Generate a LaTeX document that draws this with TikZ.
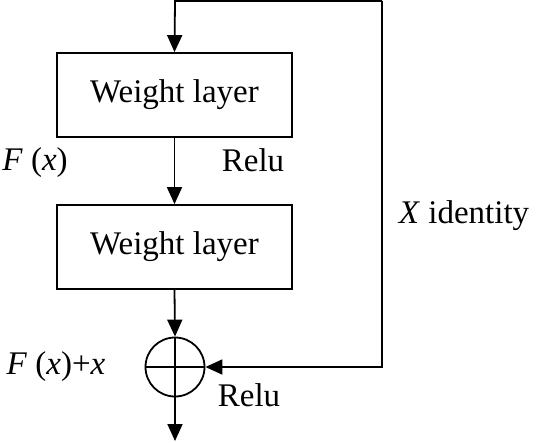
\documentclass[tikz,border=0pt]{standalone}
\usepackage{fontspec}
\setmainfont{Liberation Serif}
\usetikzlibrary{arrows.meta}
\begin{document}
\begin{tikzpicture}[x=1pt,y=-1pt,
  lbl/.style={font=\fontsize{33}{38}\selectfont, inner sep=0pt},
  wbox/.style={draw, line width=1.8pt, minimum width=235pt, minimum height=84pt, font=\fontsize{33}{38}\selectfont},
  conn/.style={line width=1.8pt, -{Triangle[length=17pt,width=15pt]}},
  plain/.style={line width=1.8pt}]
\useasboundingbox (0,0) rectangle (537,442);
\node[wbox] (w1) at (174.5,95) {Weight layer};
\node[wbox] (w2) at (174.5,247) {Weight layer};
\node[draw, circle, line width=1.8pt, minimum size=59pt, inner sep=0pt] (sum) at (175,367) {};
\draw[plain] (sum.west) -- (sum.east);
\draw[plain] (sum.north) -- (sum.south);
\coordinate (tl) at (175,1);
\coordinate (tr) at (382,1);
\coordinate (br) at (382,367);
\coordinate (out) at (175,441);
\draw[conn] (tr) -- (tl) -- (w1.north);
\draw[conn] (w1.south) -- (w2.north);
\draw[conn] (w2.south) -- (sum.north);
\draw[conn] (tr) -- (br) -- (sum.east);
\draw[conn] (sum.south) -- (out);
\node[lbl] (fx) at (35,163) {\textit{F} (\textit{x})};
\node[lbl] (r1) at (253,160) {Relu};
\node[lbl] (xid) at (464,216) {\textit{X} identity};
\node[lbl] (fxx) at (56,367) {\textit{F} (\textit{x})+\textit{x}};
\node[lbl] (r2) at (249,395) {Relu};
\end{tikzpicture}
\end{document}
